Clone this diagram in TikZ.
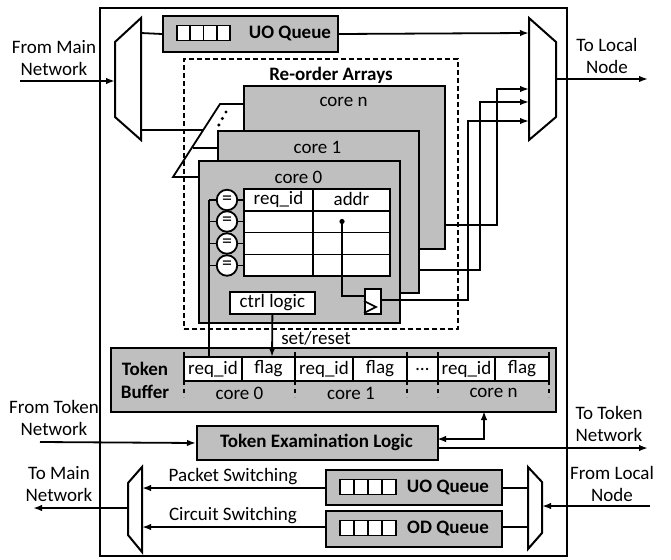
\documentclass[tikz,border=0pt]{standalone}
\usepackage{fontspec}
\setmainfont{Carlito}
\usetikzlibrary{arrows.meta}
\definecolor{boxgray}{RGB}{191,191,191}
\tikzset{
  ln/.style={line width=1.8pt},
  arr/.style={ln,-{Latex[length=9pt,width=6.5pt]}},
  darr/.style={ln,{Latex[length=9pt,width=6.5pt]}-{Latex[length=9pt,width=6.5pt]}},
  box/.style={draw,line width=2pt,fill=boxgray,inner sep=0pt,anchor=north west},
  wbox/.style={draw,line width=1.8pt,fill=white,inner sep=0pt,anchor=north west,font=\fontsize{19}{22}\selectfont},
  lbl/.style={font=\fontsize{19}{22}\selectfont,align=center,inner sep=0pt},
  blbl/.style={font=\fontsize{19}{23}\selectfont\bfseries,align=center,inner sep=0pt},
  mux/.style={line width=2pt,line join=miter,fill=white},
}
\newcommand\qicon[3]{%
  \draw[line width=1.6pt,fill=white] (#1-#3*2,#2-7.5) rectangle (#1+#3*2,#2+7.5);
  \draw[line width=1.6pt] (#1-#3,#2-7.5) -- (#1-#3,#2+7.5)
     (#1,#2-7.5) -- (#1,#2+7.5) (#1+#3,#2-7.5) -- (#1+#3,#2+7.5);}
\begin{document}
\begin{tikzpicture}[x=1pt,y=-1pt]
\useasboundingbox (0,0) rectangle (671,559);
% outer frame
\node[draw,line width=2pt,inner sep=0pt,anchor=north west,minimum width=467,minimum height=548] (outer) at (99,7) {};
% re-order arrays dashed box
\node[draw,line width=1.6pt,dash pattern=on 5pt off 3pt,inner sep=0pt,anchor=north west,minimum width=274,minimum height=270] (reorder) at (183,58) {};
\node[blbl] (rtitle) at (331,75) {Re-order Arrays};

% left input demux
\draw[mux] (141,18) -- (141,140) -- (115,117) -- (115,42) -- cycle;
\coordinate (dmIn) at (115,81);
\coordinate (dmOutA) at (141,33);
\coordinate (dmOutB) at (141,130);
\coordinate (fromMain) at (20,81);
\draw[arr] (fromMain) -- (dmIn);
\node[lbl] (lFromMain) at (54,58) {From Main\\Network};

% top UO queue
\node[box,minimum width=175,minimum height=36] (uoT) at (162,15) {};
\qicon{203.5}{33}{13.25}
\node[blbl] (uoTt) at (290,33) {UO Queue};
\draw[ln] (dmOutA) -- (uoT.west);

% right output mux
\draw[mux] (529,18) -- (556,42) -- (556,117) -- (529,140) -- cycle;
\coordinate (muxA) at (529,33);
\coordinate (muxB) at (529,89);
\coordinate (muxC) at (529,102);
\coordinate (muxD) at (529,121);
\coordinate (muxOut) at (556,79);
\coordinate (toLocal) at (648,79);
\draw[arr] (uoT.east) -- (muxA);
\draw[arr] (muxOut) -- (toLocal);
\node[lbl] (lToLocal) at (607,56) {To Local\\Node};

% skewed demux to cores
\coordinate (skT) at (220,104);
\coordinate (skB) at (173,177);
\coordinate (skM) at (193,148);
\draw[ln,line join=miter] (243,104) -- (skT) -- (skB) -- (198,177);
\draw[ln] (skM) -- (217,148);
\draw[ln] (dmOutB) -- (203,130);
\fill (226,112) circle (1.7) (222.3,118.5) circle (1.7) (218.8,125) circle (1.7);

% cores
\node[box,minimum width=201,minimum height=163] (coren) at (243,85) {};
\node[lbl] (corent) at (343.5,102) {core n};
\node[box,minimum width=201,minimum height=162] (core1) at (217,130) {};
\node[lbl] (core1t) at (317.5,147) {core 1};
\node[box,minimum width=201,minimum height=162] (core0) at (198,160) {};
\node[lbl] (core0t) at (298.5,177) {core 0};

% table in core 0
\draw[ln,fill=white] (244,189) rectangle (390,276);
\draw[ln] (244,211) -- (390,211) (244,232.5) -- (390,232.5) (244,254.5) -- (390,254.5) (313,189) -- (313,276);
\node[lbl] (hreq) at (278.5,199) {req\_id};
\node[lbl] (haddr) at (351.5,199) {addr};
\foreach \yy [count=\i] in {200,221.5,243.5,265.5} {
  \node[circle,draw,line width=1.8pt,fill=white,minimum size=20.5pt,inner sep=0pt,font=\fontsize{20}{20}\selectfont] (eq\i) at (227,\yy) {=};
  \draw[ln] (eq\i.east) -- (244,\yy);
  \draw[ln] (eq\i.west) -- (209,\yy);
}
% flip-flop
\node[wbox,minimum width=16,minimum height=25] (ff) at (364,288) {};
\draw[line width=1.6pt] (364,301) -- (376,307) -- (364,313);
\coordinate (dot) at (342,221.5);
\fill (dot) circle (2.6);
\draw[ln] (dot) |- (364,296);

% ctrl logic
\node[wbox,minimum width=85,minimum height=22] (ctrl) at (229,291) {ctrl logic};

% core outputs to right mux
\draw[arr] (380,300) -| (468,121) -- (muxD);
\draw[arr] (418,270) -| (480,102) -- (muxC);
\draw[arr] (444,225) -| (497,89) -- (muxB);

% token buffer
\node[box,minimum width=445,minimum height=64] (tb) at (110,347) {};
\node[blbl] (tbt) at (145,380.5) {Token\\Buffer};
\draw[ln,fill=white] (184,357) rectangle (549,381);
\foreach \xx in {184,295,407,438,549} {
  \draw[ln] (\xx,352) -- (\xx,381);
  \draw[line width=1.6pt,dash pattern=on 4pt off 4pt] (\xx,381) -- (\xx,397);
}
\foreach \xx in {242,353,495} { \draw[ln] (\xx,357) -- (\xx,381); }
\node[lbl] (f1) at (213,369) {req\_id};
\node[lbl] (f2) at (268.5,369) {flag};
\node[lbl] (f3) at (324,369) {req\_id};
\node[lbl] (f4) at (380,369) {flag};
\node[lbl] (f5) at (422.5,369) {\dots};
\node[lbl] (f6) at (466.5,369) {req\_id};
\node[lbl] (f7) at (522,369) {flag};
\node[lbl] (c0) at (239.5,393) {core 0};
\node[lbl] (c1) at (351,393) {core 1};
\node[lbl] (cn) at (493.5,393) {core n};

% bus and set/reset
\draw[ln] (209,200) -- (209,357);
\draw[arr] (ctrl.south) -- (272,357);
\node[lbl] (setreset) at (316,338) {set/reset};

% token examination logic
\node[box,minimum width=241,minimum height=34] (tel) at (196,425) {};
\node[blbl] (telt) at (316.5,442) {Token Examination Logic};
\coordinate (fromTok) at (40,442);
\coordinate (toTok) at (648,448);
\draw[arr] (fromTok) -- (tel.west);
\draw[arr] (437,448) -- (toTok);
\draw[darr] (437,439) -| (484,411);
\node[lbl] (lFromTok) at (54,418) {From Token\\Network};
\node[lbl] (lToTok) at (609,424) {To Token\\Network};

% bottom queues
\node[box,minimum width=176,minimum height=35] (uoB) at (325,469) {};
\qicon{368}{487}{14}
\node[blbl] (uoBt) at (448,487) {UO Queue};
\node[box,minimum width=176,minimum height=36] (odB) at (325,510) {};
\qicon{368}{528}{14}
\node[blbl] (odBt) at (448,528) {OD Queue};

% bottom-left mux
\draw[mux] (142,467) -- (142,552) -- (128,535) -- (128,483) -- cycle;
\coordinate (blOut) at (128,508);
\coordinate (toMain) at (33,508);
\draw[arr] (blOut) -- (toMain);
\draw[arr] (325,488) -- (142,488);
\draw[arr] (325,527) -- (142,527);
\node[lbl] (pkt) at (233,477) {Packet Switching};
\node[lbl] (cir) at (233,516) {Circuit Switching};
\node[lbl] (lToMain) at (59,484) {To Main\\Network};

% bottom-right demux
\draw[mux] (528,467) -- (542,482) -- (542,533) -- (528,549) -- cycle;
\draw[ln] (501,488) -- (528,488);
\draw[ln] (501,527) -- (528,527);
\coordinate (fromLocal) at (650,506);
\draw[arr] (fromLocal) -- (542,506);
\node[lbl] (lFromLocal) at (612,484) {From Local\\Node};
\end{tikzpicture}
\end{document}
